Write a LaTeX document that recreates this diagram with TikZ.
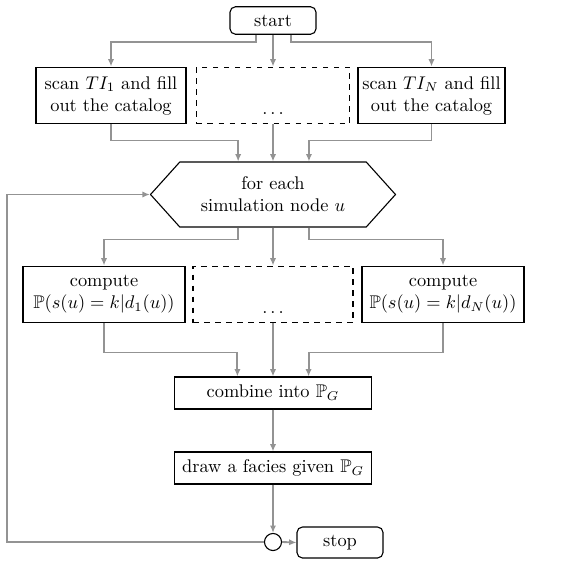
\documentclass[tikz,border=0pt]{standalone}
\usepackage{amssymb}
\usetikzlibrary{arrows.meta,shapes.symbols,positioning}

\begin{document}
\begin{tikzpicture}[x=0.545pt,y=-0.545pt,>={Latex[length=4pt,width=3.4pt]},
	every node/.style={font=\normalsize},
	block/.style={draw,semithick,rectangle,align=center,inner xsep=1pt,minimum height=31pt},
	dashblock/.style={block,dashed},
	term/.style={draw,semithick,rectangle,rounded corners=3pt,minimum width=46.9pt,minimum height=15pt},
	hexa/.style={draw,semithick,signal,signal to=west and east,signal pointer angle=96,align=center,minimum width=133.5pt,minimum height=35.4pt},
	flow/.style={->,draw=gray!85,line width=1pt}]

	\useasboundingbox (0,0) rectangle (581,560);

	\node [term] at (273,20.5)								(start)	{start};
	\node [block,minimum width=81.8pt] at (111,95.5)		(scan_1)	{scan $TI_1$ and fill\\out the catalog};
	\node [dashblock,minimum width=83.4pt] at (273,95.5)	(scan_d)	{\strut\\$\ldots$};
	\node [block,minimum width=80.1pt] at (431.5,95.5)		(scan_N)	{scan $TI_N$ and fill\\out the catalog};
	\node [hexa] at (273,194.5)								(loop)		{for each\\simulation node $u$};
	\node [block,minimum width=88.3pt] at (104,294.5)		(comp_1)	{compute\\$\mathbb{P}(s(u)=k|d_1(u))$};
	\node [dashblock,minimum width=87.2pt] at (273,294.5)	(comp_d)	{\strut\\$\ldots$};
	\node [block,minimum width=88.3pt] at (443,294.5)		(comp_N)	{compute\\$\mathbb{P}(s(u)=k|d_N(u))$};
	\node [block,minimum width=107.4pt,minimum height=17.4pt] at (273,393)	(comb)		{combine into $\mathbb{P}_G$};
	\node [block,minimum width=107.4pt,minimum height=17.4pt] at (273,468)	(draw_f)	{draw a facies given $\mathbb{P}_G$};
	\node [draw,semithick,circle,minimum size=9.3pt,inner sep=0pt] at (273,542)	(join)		{};
	\node [term,minimum height=16.9pt] at (340,542.5)		(stop)		{stop};

	% start -> scans
	\draw [flow]	([xshift=-9.3pt]start.south) -- ++(0,7) -| (scan_1.north);
	\draw [flow]	(start.south) -- (scan_d.north);
	\draw [flow]	([xshift=9.8pt]start.south) -- ++(0,7) -| (scan_N.north);

	% scans -> loop
	\draw [flow]	(scan_1.south) -- ++(0,16) -| ([xshift=-19pt]loop.north);
	\draw [flow]	(scan_d.south) -- (loop.north);
	\draw [flow]	(scan_N.south) -- ++(0,16) -| ([xshift=19.6pt]loop.north);

	% loop -> computes
	\draw [flow]	([xshift=-19pt]loop.south) -- ++(0,12) -| (comp_1.north);
	\draw [flow]	(loop.south) -- (comp_d.north);
	\draw [flow]	([xshift=19.6pt]loop.south) -- ++(0,12) -| (comp_N.north);

	% computes -> combine
	\draw [flow]	(comp_1.south) -- ++(0,29) -| ([xshift=-19.4pt]comb.north);
	\draw [flow]	(comp_d.south) -- (comb.north);
	\draw [flow]	(comp_N.south) -- ++(0,29) -| ([xshift=19.4pt]comb.north);

	\draw [flow]	(comb.south) -- (draw_f.north);
	\draw [flow]	(draw_f.south) -- (join.north);
	\draw [flow]	(join.east) -- (stop.west);
	\draw [flow]	(join.west) -- ++(-257,0) |- (loop.west);

\end{tikzpicture}
\end{document}
